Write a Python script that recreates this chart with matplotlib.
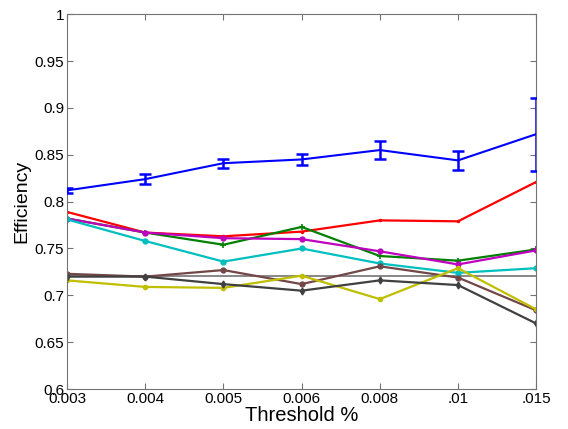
import numpy as np
import matplotlib
matplotlib.use("Agg")
import matplotlib.pyplot as plt

plt.rcParams['font.family'] = ['Liberation Sans', 'DejaVu Sans']

# threshold categories (equally spaced on the axis)
thresholds = ["0.003", "0.004", "0.005", "0.006", "0.008", ".01", ".015"]

blue = [0.812, 0.824, 0.841, 0.845, 0.855, 0.844, 0.872]
blue_err = [0.003, 0.005, 0.005, 0.006, 0.010, 0.0105, 0.039]
red = [0.789, 0.767, 0.763, 0.768, 0.780, 0.779, 0.821]
green = [0.782, 0.767, 0.754, 0.773, 0.742, 0.737, 0.749]
magenta = [0.782, 0.767, 0.761, 0.760, 0.747, 0.733, 0.748]
cyan = [0.781, 0.758, 0.736, 0.750, 0.734, 0.724, 0.729]
brown = [0.723, 0.720, 0.727, 0.712, 0.731, 0.719, 0.684]
yellow = [0.716, 0.709, 0.708, 0.721, 0.696, 0.729, 0.685]
dark = [0.720, 0.720, 0.712, 0.705, 0.716, 0.711, 0.670]
baseline = 0.7205

x = np.arange(len(thresholds))

fig = plt.figure(figsize=(5.68, 4.29), dpi=100)
ax = fig.add_axes([0.118, 0.093, 0.826, 0.874])

ax.axhline(baseline, color=(0.45, 0.45, 0.45), lw=1.2, zorder=1)

ax.errorbar(x, blue, yerr=blue_err, color=(0, 0, 1), lw=1.5,
            elinewidth=1.8, capsize=4, capthick=1.8, zorder=5)
ax.plot(x, red, color=(1, 0, 0), lw=1.6, marker='.', ms=3)
ax.plot(x, green, color=(0, 0.5, 0), lw=1.6, marker='+', ms=4, mew=1.2)
ax.plot(x, magenta, color=(0.75, 0, 0.75), lw=1.6, marker='o', ms=3.5)
ax.plot(x, cyan, color=(0, 0.75, 0.75), lw=1.6, marker='o', ms=3.5)
ax.plot(x, brown, color=(0.45, 0.28, 0.28), lw=1.6, marker='o', ms=3.5)
ax.plot(x, yellow, color=(0.75, 0.75, 0), lw=1.6, marker='o', ms=3)
ax.plot(x, dark, color=(0.25, 0.25, 0.25), lw=1.6, marker='d', ms=3.5)

ax.set_xlim(0, len(thresholds) - 1)
ax.set_ylim(0.6, 1.0)
ax.set_xticks(x)
ax.set_xticklabels(thresholds)
yt = np.arange(0.6, 1.001, 0.05)
ax.set_yticks(yt)
ax.set_yticklabels(["0.6", "0.65", "0.7", "0.75", "0.8", "0.85", "0.9", "0.95", "1"])
ax.tick_params(direction='in', top=True, right=True, labelsize=11, length=4,
               color=(0.45, 0.45, 0.45), pad=2)
for s in ax.spines.values():
    s.set_color((0.45, 0.45, 0.45))

ax.set_xlabel("Threshold %", fontsize=14.5, labelpad=0)
ax.set_ylabel("Efficiency", fontsize=14, labelpad=3)

fig.savefig("out.png", dpi=100)
